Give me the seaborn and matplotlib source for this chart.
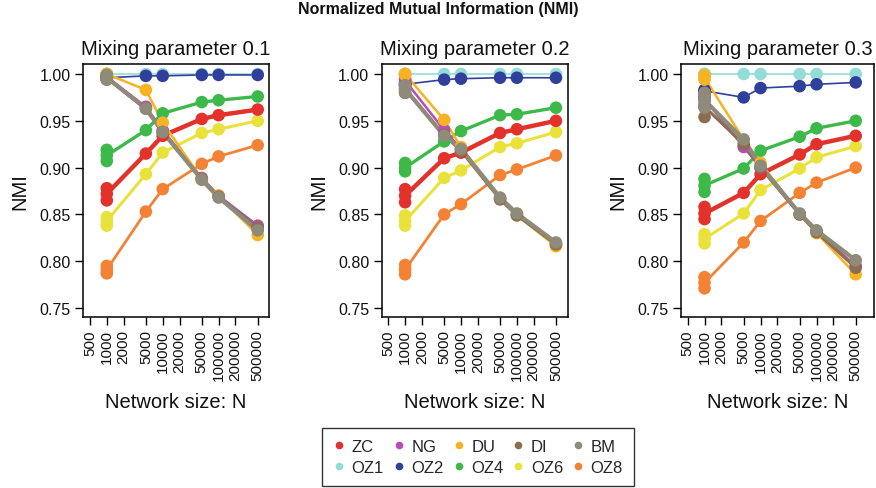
import numpy as np
import pandas as pd
import matplotlib
matplotlib.use("Agg")
import matplotlib.pyplot as plt
from matplotlib.lines import Line2D
import seaborn as sns

# --- data ---
sizes = [1000, 5000, 10000, 50000, 100000, 500000]
tick_sizes = [500, 1000, 2000, 5000, 10000, 20000, 50000, 100000, 200000, 500000]
methods = ["ZC", "NG", "DU", "DI", "BM", "OZ1", "OZ2", "OZ4", "OZ6", "OZ8"]
mixing = ["0.1", "0.2", "0.3"]

# mean NMI per method and network size
nmi_01 = {
    "ZC":  [0.872, 0.915, 0.934, 0.952, 0.956, 0.962],
    "NG":  [0.997, 0.965, 0.940, 0.889, 0.870, 0.838],
    "DU":  [1.000, 0.983, 0.948, 0.888, 0.870, 0.828],
    "DI":  [0.996, 0.963, 0.938, 0.888, 0.869, 0.836],
    "BM":  [0.996, 0.963, 0.938, 0.887, 0.868, 0.833],
    "OZ1": [1.000, 1.000, 1.000, 1.000, 1.000, 1.000],
    "OZ2": [0.996, 0.998, 0.998, 0.999, 0.999, 0.999],
    "OZ4": [0.913, 0.940, 0.958, 0.970, 0.972, 0.976],
    "OZ6": [0.843, 0.893, 0.916, 0.937, 0.941, 0.950],
    "OZ8": [0.791, 0.853, 0.877, 0.904, 0.912, 0.924],
}
nmi_02 = {
    "ZC":  [0.870, 0.910, 0.916, 0.937, 0.941, 0.950],
    "NG":  [0.993, 0.940, 0.920, 0.867, 0.850, 0.818],
    "DU":  [1.000, 0.951, 0.922, 0.867, 0.849, 0.816],
    "DI":  [0.984, 0.935, 0.918, 0.866, 0.849, 0.818],
    "BM":  [0.984, 0.934, 0.920, 0.868, 0.851, 0.820],
    "OZ1": [1.000, 1.000, 1.000, 1.000, 1.000, 1.000],
    "OZ2": [0.989, 0.994, 0.995, 0.996, 0.996, 0.996],
    "OZ4": [0.900, 0.928, 0.939, 0.956, 0.957, 0.964],
    "OZ6": [0.843, 0.889, 0.897, 0.922, 0.926, 0.938],
    "OZ8": [0.791, 0.850, 0.861, 0.892, 0.898, 0.913],
}
nmi_03 = {
    "ZC":  [0.851, 0.873, 0.893, 0.914, 0.925, 0.934],
    "NG":  [0.973, 0.922, 0.900, 0.850, 0.832, 0.795],
    "DU":  [0.996, 0.930, 0.905, 0.850, 0.830, 0.786],
    "DI":  [0.965, 0.925, 0.900, 0.850, 0.831, 0.793],
    "BM":  [0.972, 0.930, 0.902, 0.851, 0.833, 0.801],
    "OZ1": [1.000, 1.000, 1.000, 1.000, 1.000, 1.000],
    "OZ2": [0.982, 0.975, 0.985, 0.987, 0.989, 0.991],
    "OZ4": [0.881, 0.899, 0.918, 0.933, 0.942, 0.950],
    "OZ6": [0.824, 0.851, 0.876, 0.899, 0.911, 0.923],
    "OZ8": [0.777, 0.820, 0.843, 0.873, 0.884, 0.900],
}

# lowest / highest run at N = 1000 (the stacked blobs)
spread_01 = {
    "ZC": (0.865, 0.878), "NG": (0.995, 0.999), "DU": (1.000, 1.000),
    "DI": (0.994, 0.998), "BM": (0.994, 0.999), "OZ1": (1.000, 1.000),
    "OZ2": (0.995, 0.997), "OZ4": (0.907, 0.919), "OZ6": (0.838, 0.847),
    "OZ8": (0.787, 0.795),
}
spread_02 = {
    "ZC": (0.863, 0.877), "NG": (0.990, 0.995), "DU": (0.999, 1.000),
    "DI": (0.980, 0.987), "BM": (0.980, 0.988), "OZ1": (1.000, 1.000),
    "OZ2": (0.988, 0.990), "OZ4": (0.896, 0.905), "OZ6": (0.838, 0.849),
    "OZ8": (0.786, 0.796),
}
spread_03 = {
    "ZC": (0.845, 0.858), "NG": (0.968, 0.978), "DU": (0.994, 0.999),
    "DI": (0.954, 0.975), "BM": (0.964, 0.980), "OZ1": (1.000, 1.000),
    "OZ2": (0.981, 0.983), "OZ4": (0.874, 0.888), "OZ6": (0.819, 0.829),
    "OZ8": (0.771, 0.783),
}

colors = {
    "ZC": "#E3322B", "NG": "#B84DB5", "DU": "#F8B323", "DI": "#8C6D4F",
    "BM": "#8E8B7A", "OZ1": "#93DCD7", "OZ2": "#2E3F9C", "OZ4": "#3DB94A",
    "OZ6": "#E9E23A", "OZ8": "#F38235",
}
widths = {
    "ZC": 3.2, "NG": 1.8, "DU": 1.8, "DI": 2.2, "BM": 3.0, "OZ1": 1.2,
    "OZ2": 1.2, "OZ4": 2.4, "OZ6": 2.2, "OZ8": 2.0,
}
draw_order = ["OZ1", "OZ2", "OZ4", "OZ6", "OZ8", "ZC", "NG", "DU", "DI", "BM"]

# --- style ---
sns.set_theme(style="ticks")
plt.rcParams["font.family"] = ["Liberation Sans", "DejaVu Sans"]

fig = plt.figure(figsize=(8.76, 4.89), dpi=100)

# panel boxes in figure fractions and x limits (log scale)
boxes = [(0.0947, 0.3497, 0.2127, 0.5174),
         (0.4357, 0.3497, 0.2130, 0.5174),
         (0.7774, 0.3497, 0.2203, 0.5174)]
xlims = [(375, 805000), (381, 830000), (380, 1060000)]
panels = [(nmi_01, spread_01), (nmi_02, spread_02), (nmi_03, spread_03)]

for i, (nmi, spread) in enumerate(panels):
    ax = fig.add_axes(boxes[i])
    ax.set_xscale("log")
    for m in draw_order:
        vals = nmi[m]
        sns.lineplot(x=sizes, y=vals, color=colors[m], linewidth=widths[m],
                     ax=ax, legend=False)
        lo, hi = spread[m]
        run_x = sizes + [sizes[0], sizes[0]]
        run_y = vals + [lo, hi]
        sns.scatterplot(x=run_x, y=run_y, color=colors[m], s=82,
                        edgecolor="none", linewidth=0, ax=ax, legend=False,
                        zorder=3)
    ax.set_xlim(*xlims[i])
    ax.set_ylim(0.7404, 1.0107)
    ax.set_xticks(tick_sizes)
    ax.set_xticklabels([str(t) for t in tick_sizes], rotation=90, fontsize=11)
    ax.xaxis.set_minor_locator(matplotlib.ticker.NullLocator())
    ax.set_yticks([0.75, 0.80, 0.85, 0.90, 0.95, 1.00])
    ax.set_yticklabels(["0.75", "0.80", "0.85", "0.90", "0.95", "1.00"],
                       fontsize=11.5)
    ax.tick_params(axis="both", length=6, width=1, color="black",
                   labelcolor="#111111", pad=3)
    for sp in ax.spines.values():
        sp.set_visible(True)
        sp.set_color("black")
        sp.set_linewidth(1.1)
    ax.set_title("Mixing parameter " + mixing[i], fontsize=14.5, pad=7,
                 color="#111111")
    ax.set_xlabel("Network size: N", fontsize=14.5, labelpad=8,
                  color="#111111")
    ax.set_ylabel("NMI", fontsize=14.5, labelpad=7, color="#111111")
    ax.grid(False)

fig.suptitle("Normalized Mutual Information (NMI)", fontsize=11.5,
             fontweight="bold", y=0.995, x=0.5, color="#111111")

# legend: row-wise order in the reference, matplotlib fills by column
legend_order = ["ZC", "OZ1", "NG", "OZ2", "DU", "OZ4", "DI", "OZ6", "BM", "OZ8"]
handles = [Line2D([], [], linestyle="none", marker="o", markersize=5.5,
                  markerfacecolor=colors[m], markeredgecolor="none")
           for m in legend_order]
leg = fig.legend(handles, legend_order, ncol=5, loc="center",
                 bbox_to_anchor=(0.5457, 0.0634), fontsize=12,
                 frameon=True, fancybox=False, edgecolor="black",
                 handlelength=0.7, handletextpad=0.4, columnspacing=0.55,
                 labelspacing=0.35, borderpad=0.65)
leg.get_frame().set_linewidth(1.0)

fig.savefig("out.png", dpi=100)
